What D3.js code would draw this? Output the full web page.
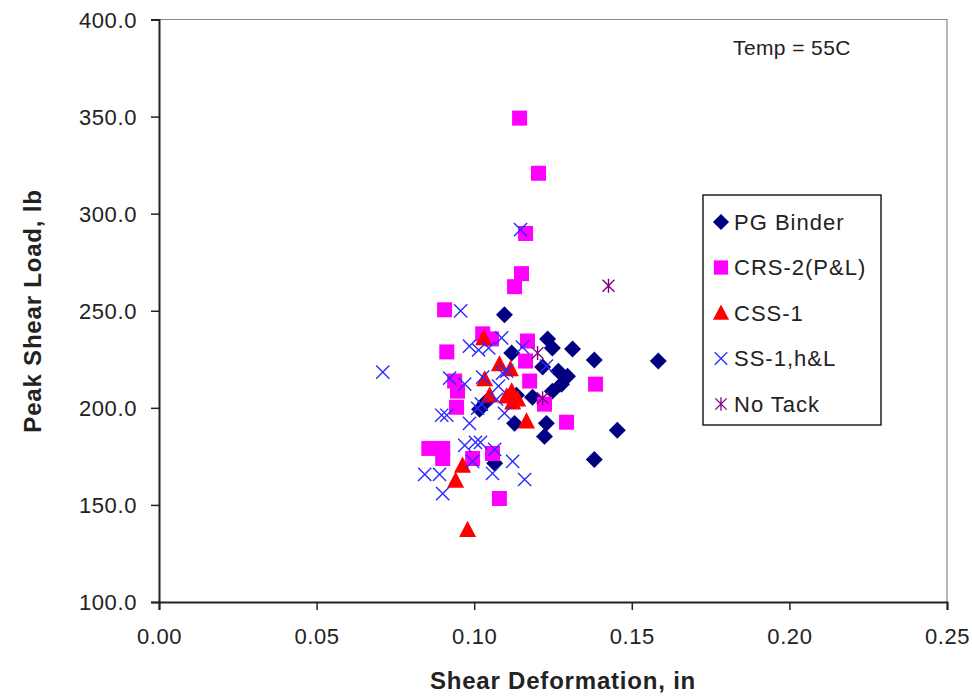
<!DOCTYPE html>
<html>
<head>
<meta charset="utf-8">
<script src="https://cdn.jsdelivr.net/npm/d3@7"></script>
<style>
  body { margin: 0; background: #fff; }
  text { font-family: "Liberation Sans", Arial, sans-serif; }
</style>
</head>
<body>
<div id="chart"></div>
<script>
// data: [shear deformation (in), peak shear load (lb)]
const pgBinder = [
  [0.1096, 247.9], [0.1233, 235.5], [0.1248, 230.8], [0.1312, 230.3], [0.1381, 224.6],
  [0.1584, 224.1], [0.1119, 228.2], [0.1217, 221.0], [0.1267, 218.9], [0.1296, 216.3],
  [0.1277, 212.2], [0.1248, 208.6], [0.1185, 205.5], [0.1134, 206.5], [0.1017, 199.3],
  [0.1036, 202.9], [0.1128, 192.0], [0.1229, 192.0], [0.1223, 185.3], [0.1065, 171.4],
  [0.1381, 173.4], [0.1454, 188.4]
]
const crs2 = [
  [0.1144, 349.2], [0.1204, 320.8], [0.1163, 289.8], [0.1150, 269.1], [0.1128, 262.4],
  [0.0906, 250.5], [0.0913, 228.8], [0.1027, 238.1], [0.1055, 235.5], [0.1169, 234.4],
  [0.1163, 224.1], [0.1176, 213.8], [0.1385, 212.2], [0.1223, 201.9], [0.1293, 192.6],
  [0.0938, 213.8], [0.0947, 208.6], [0.0944, 200.3], [0.0856, 179.1], [0.0900, 179.1],
  [0.0900, 173.9], [0.0995, 173.9], [0.1058, 176.5], [0.1080, 153.3]
]
const css1 = [
  [0.1030, 236.0], [0.1080, 222.5], [0.1115, 220.0], [0.1033, 214.8], [0.1049, 206.5],
  [0.1103, 206.0], [0.1119, 208.6], [0.1122, 202.9], [0.1138, 204.4], [0.1166, 193.1],
  [0.0963, 170.3], [0.0941, 162.6], [0.0979, 137.2]
]
const ss1 = [
  [0.1147, 291.8], [0.0710, 218.4], [0.0957, 249.9], [0.0985, 231.8], [0.1014, 229.8],
  [0.1046, 230.8], [0.1087, 236.0], [0.1153, 231.3], [0.1229, 221.5], [0.0922, 215.3],
  [0.0970, 212.2], [0.1027, 215.8], [0.1077, 211.2], [0.1103, 218.9], [0.1090, 217.9],
  [0.1071, 204.4], [0.1023, 201.9], [0.0897, 196.2], [0.0913, 196.2], [0.0985, 192.0],
  [0.1096, 197.2], [0.1011, 199.8], [0.0970, 180.7], [0.1004, 182.2], [0.1020, 182.2],
  [0.0995, 172.4], [0.1065, 178.6], [0.1058, 166.2], [0.0843, 165.7], [0.0890, 165.7],
  [0.0900, 155.8], [0.1122, 172.4], [0.1160, 163.1]
]
const noTack = [[0.1426, 262.9], [0.1201, 228.2], [0.1217, 205.0]]

const xTicks = [0, 0.05, 0.10, 0.15, 0.20, 0.25]
const yTicks = [100, 150, 200, 250, 300, 350, 400]
const seriesNames = ["PG Binder", "CRS-2(P&L)", "CSS-1", "SS-1,h&L", "No Tack"]

const width = 972, height = 696
const plotLeft = 159, plotRight = 947, plotTop = 19.5, plotBottom = 602

const x = d3.scaleLinear().domain([0, 0.25]).range([plotLeft, plotRight])
const y = d3.scaleLinear().domain([100, 400]).range([plotBottom, plotTop])

// excel-style asterisk: vertical bar plus an x
const asterisk = {
  draw(ctx, size) {
    const r = Math.sqrt(size) / 2
    const d = r * 0.85
    ctx.moveTo(0, -r); ctx.lineTo(0, r)
    ctx.moveTo(-d, -d); ctx.lineTo(d, d)
    ctx.moveTo(-d, d); ctx.lineTo(d, -d)
  }
}
// excel-style triangle, about as tall as it is wide
const triangle = {
  draw(ctx, size) {
    const w = Math.sqrt(size) / 2
    ctx.moveTo(0, -w * 1.05)
    ctx.lineTo(w, w * 0.85)
    ctx.lineTo(-w, w * 0.85)
    ctx.closePath()
  }
}

const series = [
  { data: pgBinder, type: d3.symbolSquare, size: 144, rot: 45, fill: "#000080", stroke: "none" },
  { data: crs2, type: d3.symbolSquare, size: 225, rot: 0, fill: "#ff00ff", stroke: "none" },
  { data: css1, type: triangle, size: 289, rot: 0, fill: "#ff0000", stroke: "none" },
  { data: ss1, type: d3.symbolX, size: 115, rot: 0, fill: "none", stroke: "#2a2aff" },
  { data: noTack, type: asterisk, size: 196, rot: 0, fill: "none", stroke: "#800080" }
]

const svg = d3.select("#chart").append("svg")
  .attr("width", width).attr("height", height)

// plot frame (top/right gray)
svg.append("path")
  .attr("d", `M${plotLeft},${plotTop}H${plotRight}V${plotBottom}`)
  .attr("fill", "none").attr("stroke", "#888").attr("stroke-width", 1.2)

const yAxis = d3.axisLeft(y).tickValues(yTicks).tickFormat(d3.format(".1f")).tickSize(8).tickPadding(14)
const xAxis = d3.axisBottom(x).tickValues(xTicks).tickFormat(d3.format(".2f")).tickSize(8).tickPadding(18)

const gy = svg.append("g").attr("transform", `translate(${plotLeft},0)`).call(yAxis)
const gx = svg.append("g").attr("transform", `translate(0,${plotBottom})`).call(xAxis)
;[gx, gy].forEach(g => {
  g.select(".domain").attr("stroke", "#222").attr("stroke-width", 2)
  g.selectAll(".tick line").attr("stroke", "#222").attr("stroke-width", 1.5)
  g.selectAll(".tick text").attr("font-size", 22).attr("fill", "#222")
    .style("font-family", "Liberation Sans, Arial, sans-serif").attr("letter-spacing", 0.6)
})
gy.selectAll(".tick text").attr("dy", "0.36em")
gx.selectAll(".tick text").attr("dy", "0.72em")

// points
series.forEach(s => {
  svg.append("g").selectAll("path")
    .data(s.data).join("path")
    .attr("d", d3.symbol(s.type, s.size))
    .attr("transform", d => `translate(${x(d[0])},${y(d[1])}) rotate(${s.rot})`)
    .attr("fill", s.fill).attr("stroke", s.stroke).attr("stroke-width", 1.4)
})

// axis titles
svg.append("text")
  .attr("x", 563).attr("y", 689).attr("text-anchor", "middle")
  .attr("font-size", 24).attr("font-weight", "bold").attr("letter-spacing", 0.8)
  .attr("fill", "#222").text("Shear Deformation, in")
svg.append("text")
  .attr("transform", "translate(41,311) rotate(-90)").attr("text-anchor", "middle")
  .attr("font-size", 24).attr("font-weight", "bold").attr("letter-spacing", 0.8)
  .attr("fill", "#222").text("Peak Shear Load, lb")

svg.append("text")
  .attr("x", 733).attr("y", 55).attr("font-size", 21).attr("fill", "#222")
  .attr("letter-spacing", 0.4).text("Temp = 55C")

// legend
const lg = svg.append("g").attr("transform", "translate(703,195)")
lg.append("rect").attr("width", 178).attr("height", 230)
  .attr("fill", "#fff").attr("stroke", "#222").attr("stroke-width", 1.5)
series.forEach((s, i) => {
  const cy = 27 + i * 45.5
  lg.append("path")
    .attr("d", d3.symbol(s.type, s.size * 0.9))
    .attr("transform", `translate(18,${cy}) rotate(${s.rot})`)
    .attr("fill", s.fill).attr("stroke", s.stroke).attr("stroke-width", 1.3)
  lg.append("text")
    .attr("x", 31).attr("y", cy).attr("dy", "0.36em")
    .attr("font-size", 22).attr("fill", "#222").attr("letter-spacing", 1)
    .text(seriesNames[i])
})
</script>
</body>
</html>
